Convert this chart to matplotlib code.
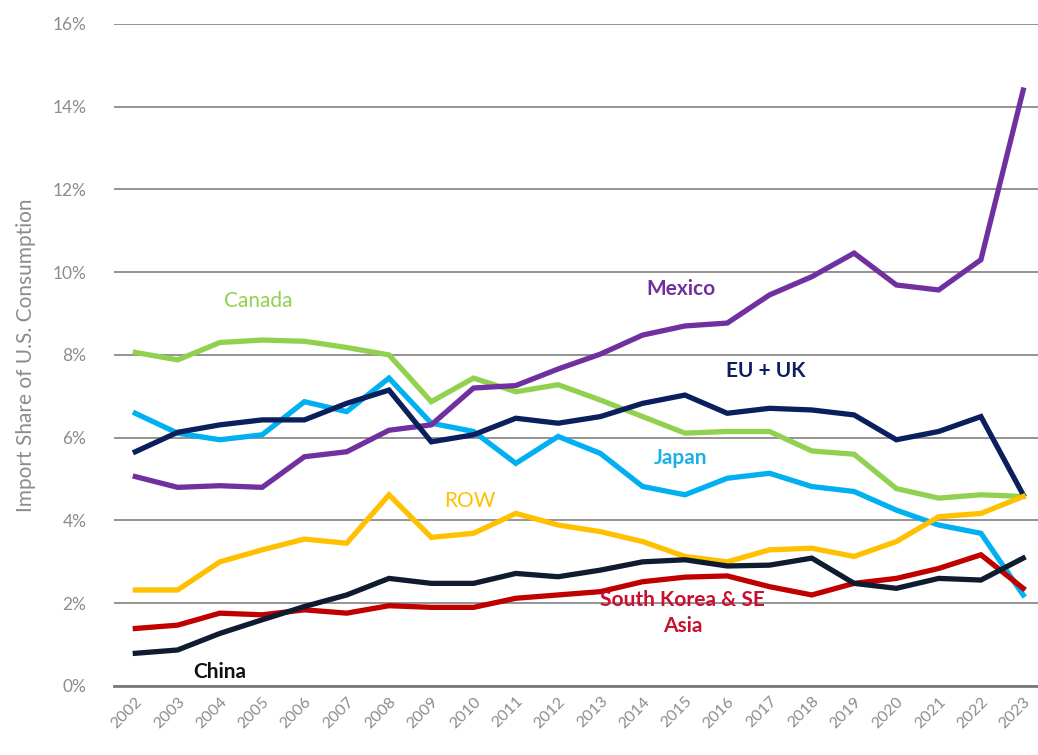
import numpy as np
from matplotlib import pyplot as plt

years = np.arange(2002, 2024)

mexico = [5.06, 4.80, 4.84, 4.80, 5.54, 5.66, 6.18, 6.31, 7.20, 7.26, 7.66, 8.02,
          8.48, 8.70, 8.77, 9.45, 9.89, 10.46, 9.69, 9.57, 10.30, 14.40]
canada = [8.06, 7.88, 8.30, 8.36, 8.33, 8.18, 8.00, 6.87, 7.44, 7.11, 7.28, 6.91,
          6.51, 6.11, 6.15, 6.15, 5.68, 5.60, 4.77, 4.54, 4.62, 4.58]
eu_uk = [5.66, 6.13, 6.31, 6.43, 6.43, 6.83, 7.15, 5.90, 6.07, 6.47, 6.35, 6.51,
         6.83, 7.03, 6.59, 6.71, 6.67, 6.55, 5.95, 6.15, 6.51, 4.62]
japan = [6.59, 6.11, 5.95, 6.07, 6.87, 6.63, 7.44, 6.35, 6.15, 5.38, 6.03, 5.62,
         4.82, 4.62, 5.02, 5.14, 4.82, 4.70, 4.25, 3.89, 3.69, 2.20]
row = [2.32, 2.32, 3.00, 3.29, 3.55, 3.45, 4.62, 3.59, 3.69, 4.17, 3.89, 3.73,
       3.49, 3.13, 3.00, 3.29, 3.33, 3.13, 3.49, 4.09, 4.17, 4.58]
china = [0.79, 0.87, 1.27, 1.60, 1.92, 2.20, 2.60, 2.48, 2.48, 2.72, 2.64, 2.80,
         3.00, 3.05, 2.90, 2.92, 3.09, 2.48, 2.36, 2.60, 2.56, 3.09]
korea_sea = [1.39, 1.47, 1.76, 1.72, 1.84, 1.76, 1.94, 1.90, 1.90, 2.12, 2.20, 2.28,
             2.52, 2.63, 2.66, 2.40, 2.20, 2.48, 2.60, 2.84, 3.17, 2.36]

yticks = np.arange(0, 17, 2)
ytick_labels = ['%d%%' % t for t in yticks]

plt.rcParams['font.family'] = ['Lato', 'DejaVu Sans']

fig = plt.figure(figsize=(10.38, 7.55), dpi=100)
ax = fig.add_axes([0.11, 0.0914, 0.89, 0.877])

series = [
    (canada, '#92D050'),
    (japan, '#00B0F0'),
    (mexico, '#7030A0'),
    (eu_uk, '#0A1F5C'),
    (row, '#FFC000'),
    (korea_sea, '#C00000'),
    (china, '#0F1C30'),
]
for vals, col in series:
    ax.plot(years, vals, color=col, lw=3.8, solid_joinstyle='miter', zorder=3)

ax.set_xlim(2001.5, 2023.35)
ax.set_ylim(0, 16)
ax.set_yticks(yticks)
ax.set_yticklabels(ytick_labels, color='#8c8c8c', fontsize=12.5)
ax.set_xticks(years)
ax.set_xticklabels([str(y) for y in years], rotation=45, color='#8c8c8c',
                   fontsize=11.5, ha='right', rotation_mode='anchor')
ax.tick_params(axis='y', length=0, pad=20)
ax.tick_params(axis='x', length=0, pad=6)

ax.grid(axis='y', color='#8a8a8a', lw=1.3, zorder=1)
for s in ['top', 'right', 'left']:
    ax.spines[s].set_visible(False)
ax.spines['bottom'].set_color('#7a7a7a')
ax.spines['bottom'].set_linewidth(2)

ax.set_ylabel('Import Share of U.S. Consumption', color='#8c8c8c', fontsize=15,
              labelpad=12)

# series labels
fs = 15
ax.text(2004.9, 9.3, 'Canada', color='#92D050', fontsize=fs, ha='center', va='center')
ax.text(2014.9, 9.6, 'Mexico', color='#7030A0', fontsize=fs, fontweight='bold',
        ha='center', va='center')
ax.text(2016.9, 7.6, 'EU + UK', color='#0A1F5C', fontsize=fs, fontweight='bold',
        ha='center', va='center')
ax.text(2014.9, 5.5, 'Japan', color='#1BB0E8', fontsize=fs, fontweight='bold',
        ha='center', va='center')
ax.text(2009.9, 4.48, 'ROW', color='#FFC000', fontsize=fs, ha='center', va='center')
ax.text(2004.0, 0.34, 'China', color='#111111', fontsize=fs, fontweight='bold',
        ha='center', va='center')
ax.text(2014.95, 1.77, 'South Korea & SE\nAsia', color='#C8102E', fontsize=fs,
        fontweight='bold', ha='center', va='center', linespacing=1.4)

fig.savefig('out.png', dpi=100)
